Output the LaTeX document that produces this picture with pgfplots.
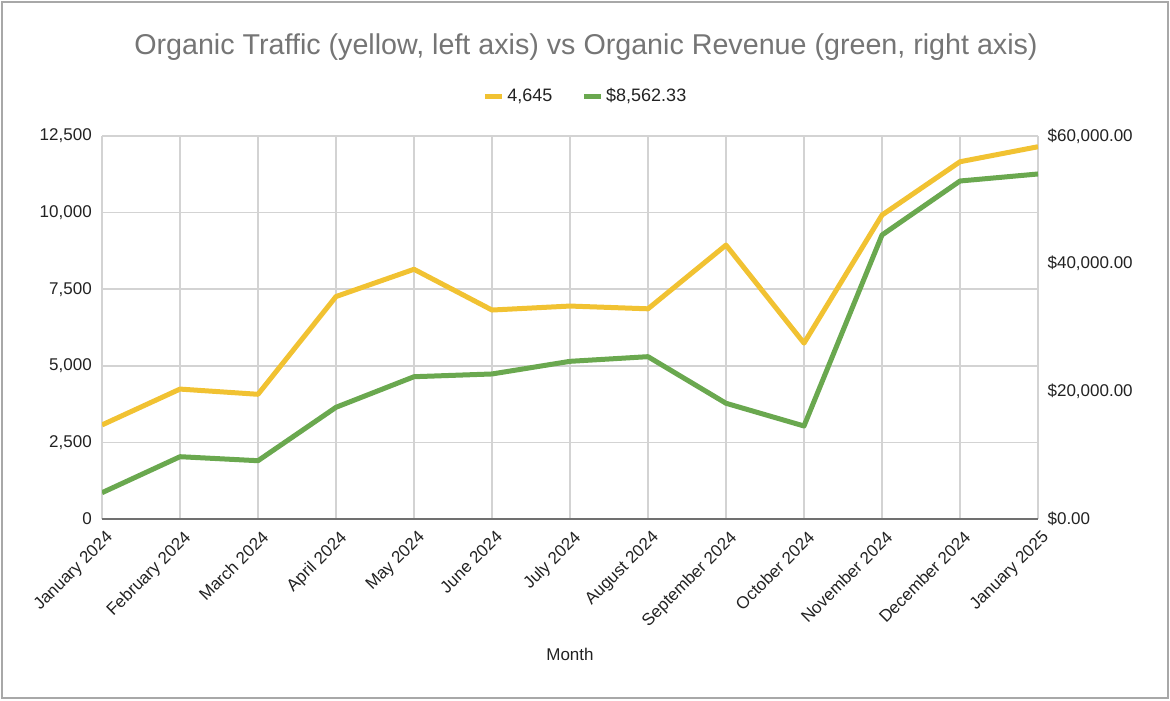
\documentclass[border=0pt]{standalone}
\usepackage{fontspec}
\setmainfont{Liberation Sans}
\usepackage{pgfplots}
\pgfplotsset{compat=1.18}

\definecolor{traffic}{HTML}{F1C232}
\definecolor{revenue}{HTML}{6AA84F}
\definecolor{gridgray}{HTML}{D3D3D3}
\definecolor{axisgray}{HTML}{707070}
\definecolor{titlegray}{HTML}{757575}
\definecolor{labelgray}{HTML}{222222}
\definecolor{framegray}{HTML}{A8A8A8}

% Monthly organic sessions (left axis)
\pgfplotstableread{
m traffic
0 3070
1 4240
2 4070
3 7260
4 8150
5 6820
6 6950
7 6860
8 8940
9 5740
10 9920
11 11660
12 12150
}\traffictable

% Monthly organic revenue in dollars (right axis)
\pgfplotstableread{
m revenue
0 4120
1 9760
2 9130
3 17500
4 22290
5 22720
6 24700
7 25430
8 18130
9 14570
10 44490
11 52950
12 54050
}\revenuetable

\newcommand{\ticksize}{\fontsize{12.75}{15}\selectfont}

\begin{document}
\begin{tikzpicture}[x=0.75pt,y=0.75pt]
\useasboundingbox (0,0) rectangle (1170,700);
\draw[framegray, line width=0.9pt] (2,2) rectangle (1168,698);

\node[text=titlegray, font=\fontsize{21.5}{25}\selectfont] at (586,653)
  {Organic Traffic (yellow, left axis) vs Organic Revenue (green, right axis)};
\node[text=labelgray, font=\ticksize] at (570,46) {Month};

% Left axis: traffic
\begin{axis}[
  at={(76.5pt,135.75pt)}, anchor=south west,
  scale only axis, width=702pt, height=287.25pt,
  xmin=0, xmax=12, ymin=0, ymax=12500,
  scaled y ticks=false,
  xtick={0,...,12},
  xticklabels={January 2024,February 2024,March 2024,April 2024,May 2024,June 2024,July 2024,August 2024,September 2024,October 2024,November 2024,December 2024,January 2025},
  ytick={0,2500,5000,7500,10000,12500},
  yticklabels={0,{2,500},{5,000},{7,500},{10,000},{12,500}},
  grid=major, major grid style={gridgray, line width=1.1pt},
  axis line style={draw=none},
  major tick length=0pt, tick style={draw=none},
  ticklabel style={font=\ticksize, text=labelgray},
  yticklabel style={inner sep=0pt, xshift=-7.5pt},
  xticklabel style={rotate=45, anchor=north east, inner sep=0pt, xshift=-4pt, yshift=-7pt},
]
\draw[axisgray, line width=1.5pt] (rel axis cs:0,0) -- (rel axis cs:1,0);
\addplot[traffic, line width=3.75pt, line join=round] table[x=m, y=traffic] {\traffictable};
\end{axis}

% Right axis: revenue
\begin{axis}[
  at={(76.5pt,135.75pt)}, anchor=south west,
  scale only axis, width=702pt, height=287.25pt,
  xmin=0, xmax=12, ymin=0, ymax=60000,
  scaled y ticks=false,
  axis x line=none, axis y line*=right,
  axis line style={draw=none},
  ytick={0,20000,40000,60000},
  yticklabels={\$0.00,{\$20,000.00},{\$40,000.00},{\$60,000.00}},
  major tick length=0pt, tick style={draw=none},
  ticklabel style={font=\ticksize, text=labelgray},
  yticklabel style={inner sep=0pt, xshift=7pt},
  legend style={at={(0.517,1.104)}, anchor=center, draw=none, fill=none,
    legend columns=2, font=\fontsize{13.5}{16}\selectfont, text=labelgray,
    /tikz/every even column/.append style={column sep=20pt}},
  legend image code/.code={\draw[#1, line cap=butt, line width=3.6pt] (0pt,0pt) -- (12.75pt,0pt);},
]
\addlegendimage{traffic, line width=3.75pt}
\addlegendentry{4,645}
\addplot[revenue, line width=3.75pt, line join=round] table[x=m, y=revenue] {\revenuetable};
\addlegendentry{\$8,562.33}
\end{axis}
\end{tikzpicture}
\end{document}
